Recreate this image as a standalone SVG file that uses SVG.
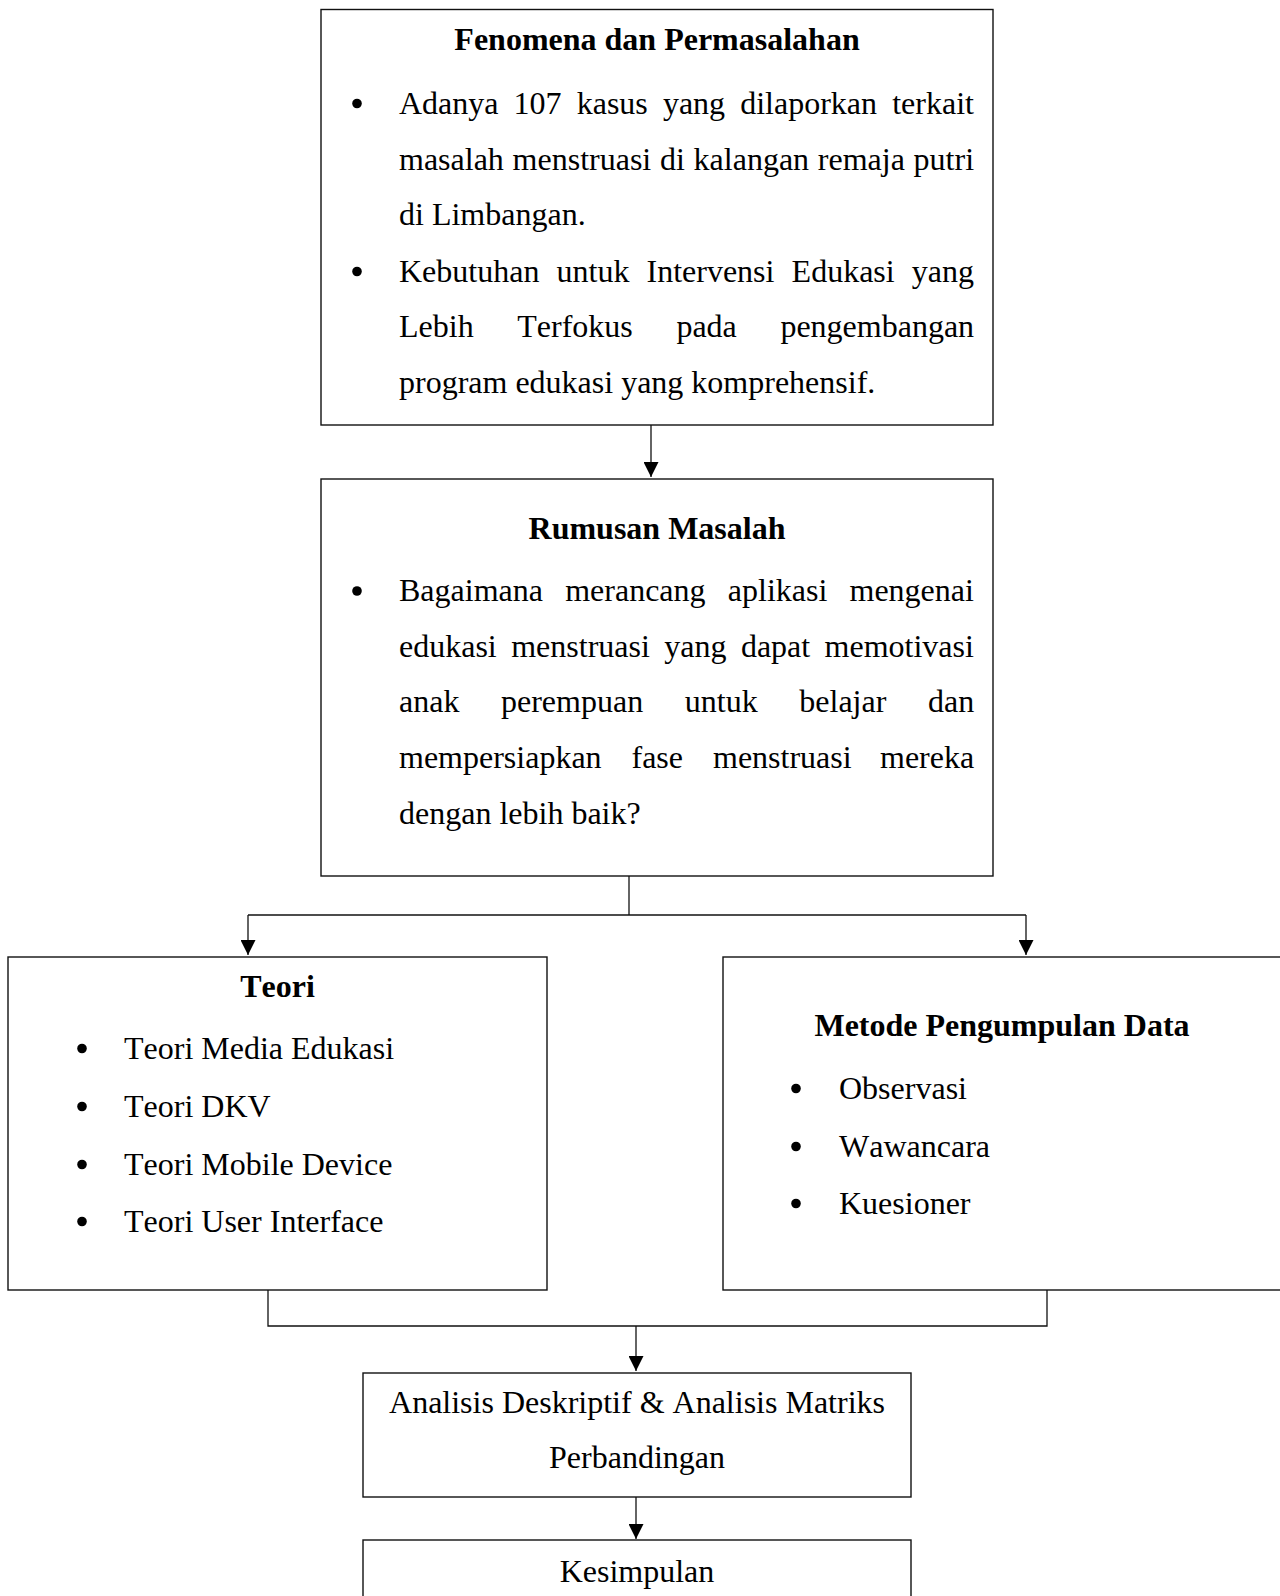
<svg xmlns="http://www.w3.org/2000/svg" width="1280" height="1596" viewBox="0 0 1280 1596">
<defs>
<style>
.box{fill:#fff;stroke:#111;stroke-width:1.4}
.t{font-family:"Liberation Serif","Times New Roman",serif;font-size:32px;fill:#000;font-kerning:none}
.b{font-weight:bold}
.c{text-anchor:middle}
.con{fill:none;stroke:#111;stroke-width:1.3}
.dot{fill:#000}
</style>
<marker id="ah" markerWidth="15" markerHeight="15" refX="15" refY="7.5" orient="auto" markerUnits="userSpaceOnUse" viewBox="0 0 15 15">
<path d="M0,0 L15,7.5 L0,15 Z" fill="#000"/>
</marker>
</defs>
<rect width="1280" height="1596" fill="#fff"/>

<g id="connectors">
<path class="con" d="M651,425 V477" marker-end="url(#ah)"/>
<path class="con" d="M629,876 V915"/>
<path class="con" d="M248,915 H1026"/>
<path class="con" d="M248,915 V955" marker-end="url(#ah)"/>
<path class="con" d="M1026,915 V955" marker-end="url(#ah)"/>
<path class="con" d="M268,1290 V1326 H1047 V1290"/>
<path class="con" d="M636,1326 V1371" marker-end="url(#ah)"/>
<path class="con" d="M636,1497 V1539" marker-end="url(#ah)"/>
</g>

<g id="fenomena">
<rect class="box" x="321" y="9.5" width="672" height="415.5"/>
<text class="t b c" x="657" y="50">Fenomena dan Permasalahan</text>
<circle class="dot" cx="357" cy="103.5" r="4.8"/>
<text class="t" y="114"><tspan x="399">Adanya</tspan><tspan x="513.6">107</tspan><tspan x="576.7">kasus</tspan><tspan x="662.9">yang</tspan><tspan x="740.2">dilaporkan</tspan><tspan x="892.2">terkait</tspan></text>
<text class="t" y="170"><tspan x="399">masalah</tspan><tspan x="512.6">menstruasi</tspan><tspan x="660">di</tspan><tspan x="693.6">kalangan</tspan><tspan x="817.8">remaja</tspan><tspan x="913.6">putri</tspan></text>
<text class="t" x="399" y="225">di Limbangan.</text>
<circle class="dot" cx="357" cy="271.5" r="4.8"/>
<text class="t" y="282"><tspan x="399">Kebutuhan</tspan><tspan x="556.5">untuk</tspan><tspan x="646.5">Intervensi</tspan><tspan x="791.6">Edukasi</tspan><tspan x="911.8">yang</tspan></text>
<text class="t" y="337"><tspan x="399">Lebih</tspan><tspan x="517.3">Terfokus</tspan><tspan x="676.4">pada</tspan><tspan x="780.4">pengembangan</tspan></text>
<text class="t" x="399" y="393">program edukasi yang komprehensif.</text>
</g>

<g id="rumusan">
<rect class="box" x="321" y="479" width="672" height="397"/>
<text class="t b c" x="657" y="539">Rumusan Masalah</text>
<circle class="dot" cx="357" cy="591" r="4.8"/>
<text class="t" y="601"><tspan x="399">Bagaimana</tspan><tspan x="565.2">merancang</tspan><tspan x="727.8">aplikasi</tspan><tspan x="849.5">mengenai</tspan></text>
<text class="t" y="657"><tspan x="399">edukasi</tspan><tspan x="511.2">menstruasi</tspan><tspan x="664.3">yang</tspan><tspan x="740.9">dapat</tspan><tspan x="824.6">memotivasi</tspan></text>
<text class="t" y="712"><tspan x="399">anak</tspan><tspan x="501">perempuan</tspan><tspan x="684.8">untuk</tspan><tspan x="799.3">belajar</tspan><tspan x="928">dan</tspan></text>
<text class="t" y="768"><tspan x="399">mempersiapkan</tspan><tspan x="631.5">fase</tspan><tspan x="713">menstruasi</tspan><tspan x="880">mereka</tspan></text>
<text class="t" x="399" y="824">dengan lebih baik?</text>
</g>

<g id="teori">
<rect class="box" x="8" y="957" width="539" height="333"/>
<text class="t b c" x="277.5" y="997">Teori</text>
<circle class="dot" cx="82" cy="1048.5" r="4.8"/>
<text class="t" x="124" y="1059">Teori Media Edukasi</text>
<circle class="dot" cx="82" cy="1106.5" r="4.8"/>
<text class="t" x="124" y="1117">Teori DKV</text>
<circle class="dot" cx="82" cy="1164.5" r="4.8"/>
<text class="t" x="124" y="1175">Teori Mobile Device</text>
<circle class="dot" cx="82" cy="1221.5" r="4.8"/>
<text class="t" x="124" y="1232">Teori User Interface</text>
</g>

<g id="metode">
<rect class="box" x="723" y="957" width="560" height="333"/>
<text class="t b c" x="1002" y="1036">Metode Pengumpulan Data</text>
<circle class="dot" cx="796" cy="1088.5" r="4.8"/>
<text class="t" x="839" y="1099">Observasi</text>
<circle class="dot" cx="796" cy="1146.5" r="4.8"/>
<text class="t" x="839" y="1157">Wawancara</text>
<circle class="dot" cx="796" cy="1203.5" r="4.8"/>
<text class="t" x="839" y="1214">Kuesioner</text>
</g>

<g id="analisis">
<rect class="box" x="363" y="1373" width="548" height="124"/>
<text class="t c" x="637" y="1413">Analisis Deskriptif &amp; Analisis Matriks</text>
<text class="t c" x="637" y="1468">Perbandingan</text>
</g>

<g id="kesimpulan">
<rect class="box" x="363" y="1540" width="548" height="70"/>
<text class="t c" x="637" y="1582">Kesimpulan</text>
</g>
</svg>
